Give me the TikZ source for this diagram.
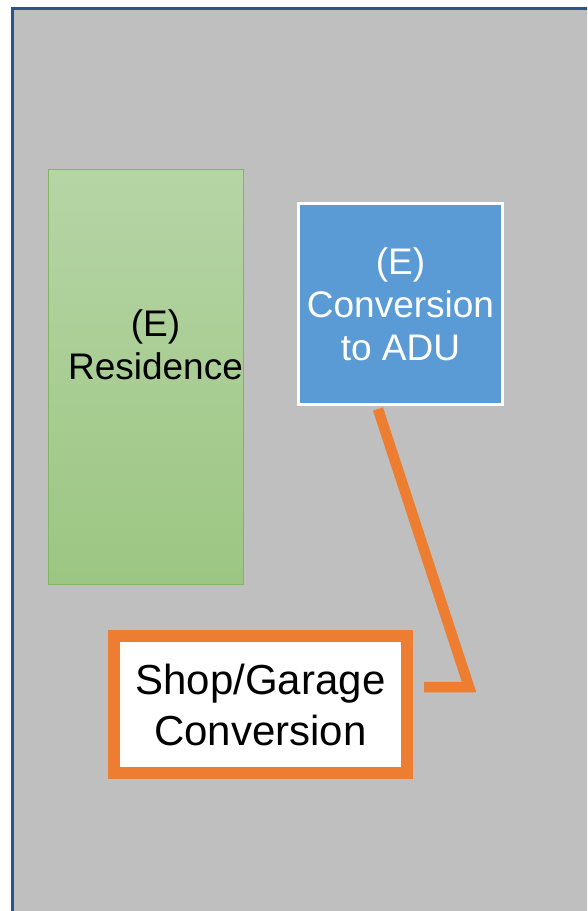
\documentclass[tikz,border=0pt]{standalone}
\usepackage{fontspec}
\setmainfont{Liberation Sans}
\definecolor{lotgray}{HTML}{BFBFBF}
\definecolor{lotedge}{HTML}{2F528F}
\definecolor{restop}{HTML}{B6D5A6}
\definecolor{resbot}{HTML}{9CC682}
\definecolor{resedge}{HTML}{82B366}
\definecolor{adublue}{HTML}{5B9BD5}
\definecolor{callout}{HTML}{ED7D31}
\tikzset{
  lot/.style={fill=lotgray, draw=lotedge, line width=2.5pt},
  resbox/.style={draw=resedge, line width=1pt, top color=restop, bottom color=resbot,
    minimum width=195pt, minimum height=415pt, inner sep=0pt},
  adubox/.style={fill=adublue, draw=white, line width=3pt,
    minimum width=204pt, minimum height=201pt, inner sep=0pt, align=center,
    text=white, font=\fontsize{37}{43}\selectfont},
  shopbox/.style={fill=white, draw=callout, line width=12pt,
    minimum width=293pt, minimum height=137pt, inner sep=0pt, align=center,
    font=\fontsize{42}{51}\selectfont},
  reslabel/.style={align=center, font=\fontsize{37}{43}\selectfont, inner sep=0pt},
  leader/.style={draw=callout, line width=10.5pt, miter limit=10, line join=miter}
}
\begin{document}
\begin{tikzpicture}[x=1pt, y=-1pt]
  \useasboundingbox (0,0) rectangle (587,911);
  \clip (0,0) rectangle (587,911);
  % property outline
  \draw[lot] (12.5,8.5) rectangle (620,940);
  % existing residence
  \node[resbox] (res) at (145.5,376.5) {};
  \node[reslabel] (reslbl) at (155.5,345) {(E)\\Residence};
  % existing structure converted to ADU
  \node[adubox] (adu) at (400.5,304) {(E)\\Conversion\\to ADU};
  % callout box
  \node[shopbox] (shop) at (260.5,704.5) {Shop/Garage\\Conversion};
  % leader line from the ADU to the callout
  \coordinate (bend) at (469,687);
  \coordinate (tail) at (424,687);
  \path[leader] ([xshift=-22.5pt]adu.south) ++(0,3) -- (bend) -- (tail);
\end{tikzpicture}
\end{document}
